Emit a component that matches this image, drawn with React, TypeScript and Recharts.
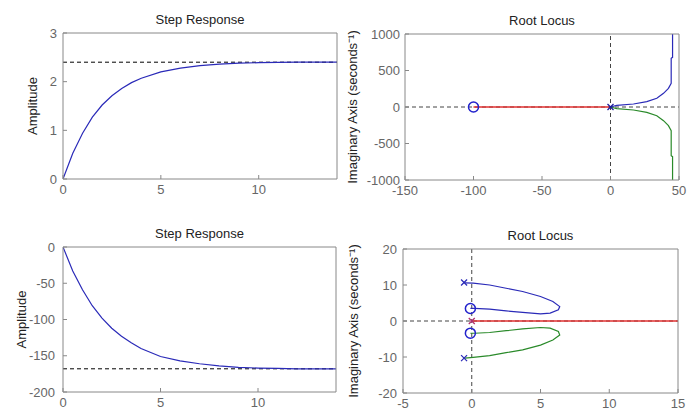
import React from 'react';
import { ComposedChart, Line, XAxis, YAxis, ReferenceLine, Label } from 'recharts';

// step response 1 (rises to ~2.4)
const stepTime = [0, 0.5, 1, 1.5, 2, 2.5, 3, 3.5, 4, 5, 6, 7, 8, 9, 10, 11, 12, 13, 14];
const stepUp = [0, 0.53, 0.94, 1.27, 1.52, 1.71, 1.86, 1.98, 2.07, 2.2, 2.28, 2.33, 2.36, 2.38, 2.39, 2.395, 2.4, 2.4, 2.4];
const stepUpFinal = 2.4;
// step response 2 (falls to ~-168)
const stepDown = [0, -33, -59, -81, -98, -112, -123, -132, -140, -151, -157, -161, -164, -166, -167, -167.5, -168, -168, -168];
const stepDownFinal = -168;

// root locus 1
const rl1RealX = [-100, 0];
const rl1UpperX = [0, 4.6, 16.8, 26.5, 33.8, 38.7, 42.3, 44.3, 44.3, 45.3, 45.3];
const rl1UpperY = [0, 23, 41, 73, 119, 187, 256, 324, 667, 680, 1000];
const rl1LowerY = [0, -23, -41, -73, -119, -187, -256, -324, -667, -680, -1000];
const rl1Zeros = [[-100, 0]];
const rl1Poles = [[0, 0]];

// root locus 2
const rl2RealX = [0, 15];
const rl2UpperX = [-0.5, 0.1, 1.3, 2.5, 3.7, 5.0, 5.9, 6.4, 6.3, 5.7, 5.0, 3.7, 2.5, 1.3, 0.2, -0.1];
const rl2UpperY = [10.6, 10.5, 10.0, 9.1, 8.2, 6.8, 5.4, 4.0, 3.1, 2.2, 2.0, 2.4, 2.8, 3.3, 3.5, 3.5];
const rl2LowerX = [-0.5, 0.1, 1.3, 2.5, 3.7, 5.0, 5.9, 6.4, 6.3, 5.7, 5.0, 3.7, 2.5, 1.3, 0.2, -0.1];
const rl2LowerY = [-10.3, -10.1, -9.6, -8.8, -8.0, -6.7, -5.3, -3.9, -2.9, -2.0, -1.8, -2.2, -2.7, -3.2, -3.4, -3.4];
const rl2Zeros = [[-0.1, 3.46], [-0.1, -3.37]];
const rl2Poles = [[-0.56, 10.7], [-0.56, -10.3], [0, 0]];

const toPts = (xs: number[], ys: number[]) => xs.map((x, i) => ({ x, y: ys[i] }));
const pairs = (p: number[][]) => p.map(([x, y]) => ({ x, y }));

const FONT = '"Liberation Sans", Arial, sans-serif';
const tickStyle = { fontSize: 13, fill: '#666', fontFamily: FONT };
const BOX = '#888';

const Circle = (props: any) => {
  const { cx, cy } = props;
  if (cx == null || cy == null) return null;
  return <circle cx={cx} cy={cy} r={5} fill="none" stroke="#2222cc" strokeWidth={1.5} />;
};
const Cross = (color: string) => (props: any) => {
  const { cx, cy } = props;
  if (cx == null || cy == null) return null;
  const s = 3;
  return (
    <g stroke={color} strokeWidth={1.2}>
      <line x1={cx - s} y1={cy - s} x2={cx + s} y2={cy + s} />
      <line x1={cx - s} y1={cy + s} x2={cx + s} y2={cy - s} />
    </g>
  );
};

type PanelProps = {
  left: number;
  top: number;
  width: number;
  height: number;
  margin: { top: number; right: number; bottom: number; left: number };
  xDomain: [number, number];
  xTicks: number[];
  yDomain: [number, number];
  yTicks: number[];
  yWidth: number;
  title: string;
  yLabel: string;
  yLabelOffset: number;
  yTickMargin: number;
  children: React.ReactNode;
};

function Panel(p: PanelProps) {
  return (
    <div style={{ position: 'absolute', left: p.left, top: p.top }}>
      <ComposedChart width={p.width} height={p.height} margin={p.margin}>
        <XAxis
          xAxisId={0}
          dataKey="x"
          type="number"
          domain={p.xDomain}
          ticks={p.xTicks}
          allowDataOverflow
          stroke={BOX}
          tickSize={-4}
          tickMargin={10}
          tick={tickStyle}
          height={24}
          interval={0}
        />
        <XAxis
          xAxisId="top"
          orientation="top"
          type="number"
          domain={p.xDomain}
          ticks={p.xTicks}
          allowDataOverflow
          stroke={BOX}
          tickSize={-4}
          tick={false}
          height={1}
        >
          <Label value={p.title} position="top" offset={8} style={{ fontSize: 13, fill: '#222', fontFamily: FONT }} />
        </XAxis>
        <YAxis
          yAxisId={0}
          type="number"
          domain={p.yDomain}
          ticks={p.yTicks}
          allowDataOverflow
          stroke={BOX}
          tickSize={-4}
          tickMargin={p.yTickMargin}
          tick={tickStyle}
          width={p.yWidth}
          interval={0}
        >
          <Label
            value={p.yLabel}
            angle={-90}
            position="insideLeft"
            offset={p.yLabelOffset}
            style={{ textAnchor: 'middle', fontSize: 13, fill: '#222', fontFamily: FONT }}
          />
        </YAxis>
        <YAxis
          yAxisId="right"
          orientation="right"
          type="number"
          domain={p.yDomain}
          ticks={p.yTicks}
          allowDataOverflow
          stroke={BOX}
          tickSize={-4}
          tick={false}
          width={1}
        />
        {p.children}
      </ComposedChart>
    </div>
  );
}

export default function App() {
  const up = toPts(stepTime, stepUp);
  const down = toPts(stepTime, stepDown);
  const finalUp = toPts([0, 14], [stepUpFinal, stepUpFinal]);
  const finalDown = toPts([0, 14], [stepDownFinal, stepDownFinal]);

  return (
    <div style={{ position: 'absolute', left: 0, top: 0, width: 697, height: 412, background: '#fff', overflow: 'hidden' }}>
      <Panel
        left={0}
        top={0}
        width={345}
        height={210}
        margin={{ top: 32, right: 7, bottom: 7, left: 18 }}
        xDomain={[0, 14]}
        xTicks={[0, 5, 10]}
        yDomain={[0, 3]}
        yTicks={[0, 1, 2, 3]}
        yWidth={45}
        yTickMargin={10}
        title="Step Response"
        yLabel="Amplitude"
        yLabelOffset={14}
      >
        <Line data={finalUp} dataKey="y" stroke="#000" strokeDasharray="4 3" dot={false} isAnimationActive={false} />
        <Line data={up} dataKey="y" stroke="#2a2ab8" strokeWidth={1.2} dot={false} isAnimationActive={false} />
      </Panel>

      <Panel
        left={345}
        top={0}
        width={352}
        height={210}
        margin={{ top: 33, right: 17, bottom: 6, left: 0 }}
        xDomain={[-150, 50]}
        xTicks={[-150, -100, -50, 0, 50]}
        yDomain={[-1000, 1000]}
        yTicks={[-1000, -500, 0, 500, 1000]}
        yWidth={60}
        yTickMargin={9}
        title="Root Locus"
        yLabel="Imaginary Axis (seconds⁻¹)"
        yLabelOffset={7}
      >
        <ReferenceLine x={0} stroke="#444" strokeDasharray="4 3" />
        <ReferenceLine y={0} stroke="#444" strokeDasharray="4 3" />
        <Line data={toPts(rl1RealX, [0, 0])} dataKey="y" stroke="#e03030" strokeWidth={1.5} dot={false} isAnimationActive={false} />
        <Line data={toPts(rl1UpperX, rl1UpperY)} dataKey="y" stroke="#2a2ab8" strokeWidth={1.2} dot={false} isAnimationActive={false} />
        <Line data={toPts(rl1UpperX, rl1LowerY)} dataKey="y" stroke="#2a8a2a" strokeWidth={1.2} dot={false} isAnimationActive={false} />
        <Line data={pairs(rl1Zeros)} dataKey="y" stroke="none" dot={<Circle />} isAnimationActive={false} />
        <Line data={pairs(rl1Poles)} dataKey="y" stroke="none" dot={Cross('#1a1a9a')} isAnimationActive={false} />
      </Panel>

      <Panel
        left={0}
        top={210}
        width={345}
        height={202}
        margin={{ top: 36, right: 8, bottom: -4, left: 18 }}
        xDomain={[0, 14]}
        xTicks={[0, 5, 10]}
        yDomain={[-200, 0]}
        yTicks={[-200, -150, -100, -50, 0]}
        yWidth={45}
        yTickMargin={12}
        title="Step Response"
        yLabel="Amplitude"
        yLabelOffset={3}
      >
        <Line data={finalDown} dataKey="y" stroke="#000" strokeDasharray="4 3" dot={false} isAnimationActive={false} />
        <Line data={down} dataKey="y" stroke="#2a2ab8" strokeWidth={1.2} dot={false} isAnimationActive={false} />
      </Panel>

      <Panel
        left={345}
        top={210}
        width={352}
        height={202}
        margin={{ top: 38, right: 18, bottom: -5, left: 0 }}
        xDomain={[-5, 15]}
        xTicks={[-5, 0, 5, 10, 15]}
        yDomain={[-20, 20]}
        yTicks={[-20, -10, 0, 10, 20]}
        yWidth={58}
        yTickMargin={10}
        title="Root Locus"
        yLabel="Imaginary Axis (seconds⁻¹)"
        yLabelOffset={8}
      >
        <ReferenceLine x={0} stroke="#444" strokeDasharray="4 3" />
        <ReferenceLine y={0} stroke="#444" strokeDasharray="4 3" />
        <Line data={toPts(rl2RealX, [0, 0])} dataKey="y" stroke="#e03030" strokeWidth={1.5} dot={false} isAnimationActive={false} />
        <Line data={toPts(rl2UpperX, rl2UpperY)} dataKey="y" stroke="#2a2ab8" strokeWidth={1.2} dot={false} isAnimationActive={false} />
        <Line data={toPts(rl2LowerX, rl2LowerY)} dataKey="y" stroke="#2a8a2a" strokeWidth={1.2} dot={false} isAnimationActive={false} />
        <Line data={pairs(rl2Zeros)} dataKey="y" stroke="none" dot={<Circle />} isAnimationActive={false} />
        <Line data={pairs(rl2Poles.slice(0, 2))} dataKey="y" stroke="none" dot={Cross('#2a2ab8')} isAnimationActive={false} />
        <Line data={pairs(rl2Poles.slice(2))} dataKey="y" stroke="none" dot={Cross('#b03070')} isAnimationActive={false} />
      </Panel>
    </div>
  );
}
